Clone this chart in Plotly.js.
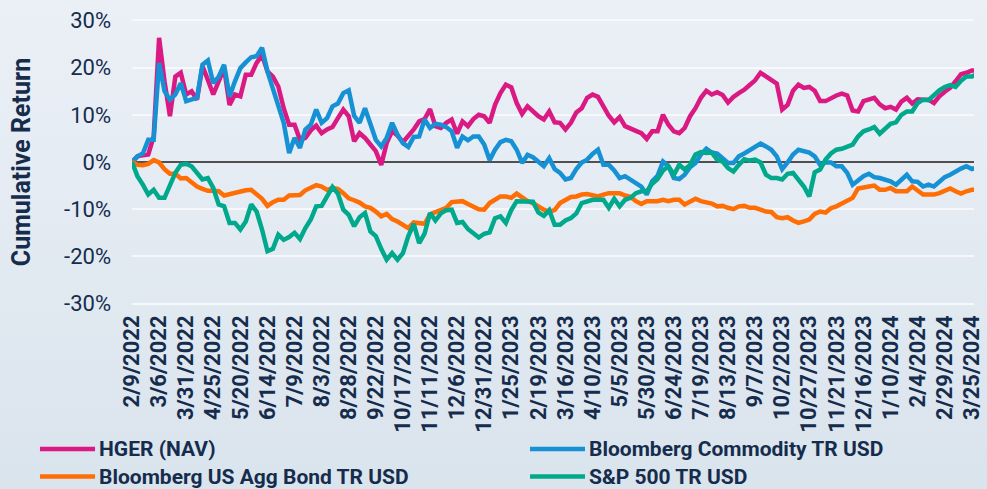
<!DOCTYPE html>
<html>
<head>
<meta charset="utf-8">
<script src="https://cdn.plot.ly/plotly-3.0.1.min.js"></script>
<style>
  html, body { margin: 0; padding: 0; }
  body { width: 987px; height: 489px; background: linear-gradient(to bottom, #ebf0f6 0%, #dae4ed 100%); overflow: hidden; }
  #chart { width: 987px; height: 489px; }
</style>
</head>
<body>
<div id="chart"></div>
<script>
// Cumulative return (%), sampled every 5 calendar days starting 2/9/2022
const startDate = '2022-02-09';
const stepDays = 5;

const seriesNames = ['HGER (NAV)', 'Bloomberg Commodity TR USD', 'Bloomberg US Agg Bond TR USD', 'S&P 500 TR USD'];
const seriesColors = ['#da1a82', '#1691d4', '#ff6e05', '#00a88c'];

const hger = [0,1.2,1.4,1.6,5.4,26.3,17.1,9.7,18.1,18.9, 14.3,15.0,13.2,20.3,17.4,14.3,17.1,19.9,12.1,14.3,
  13.9,18.5,18.5,21.0,22.7,19.2,18.1,16.0,11.4,7.9, 7.9,4.7,5.1,6.7,7.7,6.1,6.9,7.4,9.3,11.1,
  9.7,4.4,6.1,5.1,3.7,2.3,-0.6,4.0,6.5,5.6, 4.2,5.4,6.9,8.6,9.1,11.2,7.6,7.2,8.3,9.0,
  6.0,8.6,7.6,9.1,10.0,9.7,8.3,12.1,14.6,16.4, 15.8,12.5,10.2,11.8,10.7,9.7,9.0,10.7,8.4,8.3,
  6.9,8.3,10.5,11.4,13.6,14.3,13.8,11.8,9.8,8.4, 9.5,7.6,7.2,6.6,6.1,4.9,6.5,6.5,10.0,7.9,
  6.5,6.1,7.2,9.7,11.4,13.6,15.1,14.3,14.8,14.2, 12.6,13.8,14.6,15.3,16.3,17.3,18.9,18.1,17.4,16.6,
  11.1,12.1,15.1,16.4,15.7,15.9,15.1,12.9,12.9,13.6, 14.1,14.5,14.1,10.9,10.7,12.9,13.3,13.6,12.2,11.4,
  11.7,11.1,12.8,13.6,12.4,13.3,13.2,13.2,12.5,13.9, 14.9,15.7,17.1,18.6,18.9,19.4,19.4];

const commodity = [0,1.2,1.8,4.7,4.7,21.0,15.0,13.2,14.3,16.7, 12.9,13.3,13.6,20.6,21.5,16.7,18.1,20.6,13.9,17.1,
  19.9,21.1,22.2,22.4,24.2,19.2,15.7,11.8,8.3,1.9, 5.1,3.0,6.9,7.9,11.1,8.3,9.3,11.8,12.4,14.6,
  15.2,9.8,8.3,11.4,8.1,4.7,3.3,5.1,8.3,5.8, 4.0,3.2,5.3,5.4,9.0,7.2,8.1,7.9,7.4,6.5,
  3.0,5.4,4.6,5.4,5.4,3.7,0.4,2.6,4.2,4.7, 4.4,2.6,-0.2,1.5,1.0,-0.1,-0.9,0.8,-1.5,-2.3,
  -3.7,-3.4,-1.5,-0.1,0.5,1.7,2.6,-0.6,-0.6,-1.8, -3.4,-3.0,-3.7,-4.6,-5.2,-6.9,-4.1,-2.9,0.1,-0.9,
  -3.4,-3.6,-2.7,-1.1,-0.2,1.6,2.8,2.0,1.8,0.8, -0.2,-0.2,1.2,1.8,2.5,3.1,3.9,3.3,2.6,1.2,
  -1.5,-0.1,1.6,2.6,2.3,2.0,1.2,-0.6,-0.1,-0.1, -0.9,-0.9,-2.3,-4.8,-3.9,-3.0,-2.5,-3.2,-3.4,-3.7,
  -4.1,-4.8,-3.7,-2.7,-4.1,-4.2,-5.2,-4.8,-5.2,-4.2, -3.2,-2.7,-2.0,-1.4,-0.9,-1.5,-1.1];

const aggBond = [0,-0.6,-0.7,-0.4,0.4,-0.1,-1.5,-2.5,-2.5,-3.5, -3.4,-4.4,-5.2,-5.7,-6.1,-6.1,-6.2,-7.1,-6.8,-6.4,
  -6.2,-6.0,-5.9,-6.9,-7.8,-9.3,-8.5,-8.0,-8.0,-7.1, -7.0,-7.0,-6.0,-5.5,-4.9,-5.2,-5.9,-5.5,-5.7,-6.6,
  -7.7,-8.1,-8.6,-9.4,-9.7,-10.5,-11.5,-11.0,-12.1,-12.6, -13.3,-14.0,-12.8,-12.9,-13.1,-11.1,-10.7,-10.2,-9.7,-8.5,
  -8.5,-8.3,-8.9,-9.4,-10.0,-10.1,-8.7,-8.0,-7.3,-7.3, -7.6,-6.7,-7.6,-8.3,-8.7,-9.4,-10.1,-10.5,-10.2,-8.7,
  -8.0,-7.4,-7.3,-6.9,-6.8,-7.1,-7.3,-6.9,-6.6,-6.6, -6.6,-7.1,-7.4,-8.3,-8.9,-8.3,-8.3,-8.3,-8.0,-8.3,
  -8.0,-8.0,-9.0,-8.3,-7.8,-8.3,-8.5,-8.8,-9.4,-9.3, -9.7,-10.0,-9.4,-9.3,-9.7,-9.7,-10.1,-10.5,-10.6,-11.7,
  -11.9,-11.7,-12.4,-12.9,-12.6,-12.2,-11.0,-10.5,-10.7,-9.8, -9.4,-8.8,-8.0,-7.6,-5.6,-5.5,-5.2,-5.0,-5.9,-5.9,
  -5.5,-6.2,-6.2,-6.2,-5.2,-6.0,-6.9,-6.9,-6.9,-6.6, -6.1,-5.6,-6.2,-6.7,-6.2,-5.9,-5.9];

const sp500 = [0,-3.0,-4.8,-6.9,-5.9,-7.6,-7.6,-5.2,-2.3,-0.6, -0.4,-0.9,-2.3,-3.7,-3.4,-5.5,-9.0,-9.4,-12.9,-12.9,
  -14.3,-12.6,-9.0,-10.5,-14.3,-18.9,-18.4,-15.4,-16.5,-15.9, -15.0,-16.3,-14.0,-12.2,-9.4,-9.3,-7.3,-5.3,-6.7,-10.1,
  -11.2,-13.6,-11.7,-10.8,-14.7,-15.7,-18.4,-20.7,-19.3,-20.7, -19.3,-15.7,-13.1,-17.2,-15.2,-10.8,-12.4,-10.9,-10.2,-10.1,
  -12.9,-12.7,-14.2,-15.0,-16.0,-15.2,-14.9,-11.9,-11.5,-12.9, -10.2,-8.3,-8.3,-8.5,-8.4,-10.7,-11.4,-10.2,-13.3,-13.3,
  -12.4,-11.9,-10.9,-8.7,-8.4,-8.0,-8.0,-8.0,-9.7,-7.8, -9.4,-8.0,-7.6,-6.6,-6.2,-6.2,-4.6,-3.6,-1.8,-0.9,
  -2.7,-0.6,-1.6,-0.6,1.6,2.1,1.9,2.0,0.5,0.1, -1.3,-2.0,-0.6,0.6,0.3,0.5,-0.1,-2.7,-3.4,-3.4,
  -3.7,-2.5,-2.3,-3.9,-5.2,-7.3,-2.2,-1.6,0.5,1.8, 2.6,2.8,3.3,3.7,5.4,6.5,6.9,7.4,6.0,7.0,
  8.1,8.4,10.0,10.7,10.7,12.5,13.2,13.1,14.3,15.2, 15.9,16.3,15.9,17.2,18.1,18.1,18.7];

const yTickVals = [-30, -20, -10, 0, 10, 20, 30];
const yTickText = ['-30%', '-20%', '-10%', '0%', '10%', '20%', '30%'];
const yTitle = 'Cumulative Return';

const allSeries = [hger, commodity, aggBond, sp500];
const DAY = 86400000;

const traces = allSeries.map((vals, i) => ({
  type: 'scatter',
  mode: 'lines',
  name: seriesNames[i],
  x0: startDate,
  dx: stepDays * DAY,
  y: vals,
  line: { color: seriesColors[i], width: 4.5, shape: 'linear' },
  hoverinfo: 'skip'
}));

const navy = '#162c4d';
const shapes = [];
const annotations = [];
// custom legend: 2 columns x 2 rows
const legendPos = [
  { x: -0.1093, x2: -0.0439, tx: -0.0404, y: -0.5035 },
  { x: 0.4727, x2: 0.5380, tx: 0.5416, y: -0.5035 },
  { x: -0.1093, x2: -0.0439, tx: -0.0404, y: -0.5997 },
  { x: 0.4727, x2: 0.5380, tx: 0.5416, y: -0.5997 }
];
seriesNames.forEach((nm, i) => {
  const p = legendPos[i];
  shapes.push({ type: 'line', xref: 'paper', yref: 'paper', x0: p.x, x1: p.x2, y0: p.y, y1: p.y,
    line: { color: seriesColors[i], width: 4.5 } });
  annotations.push({ xref: 'paper', yref: 'paper', x: p.tx, y: p.y, xanchor: 'left', yanchor: 'middle',
    borderpad: 0,
    text: nm, showarrow: false, font: { family: 'Roboto, sans-serif', size: 21, color: navy, weight: 'bold' } });
});

const layout = {
  width: 987, height: 489,
  margin: { l: 132, r: 13, t: 19, b: 184 },
  paper_bgcolor: 'rgba(0,0,0,0)',
  plot_bgcolor: 'rgba(0,0,0,0)',
  showlegend: false,
  xaxis: {
    type: 'date',
    range: ['2022-02-09', '2024-03-27'],
    tick0: startDate,
    dtick: 25 * DAY,
    tickformat: '%-m/%-d/%Y',
    tickangle: -90,
    tickfont: { family: 'Roboto, sans-serif', size: 22, color: navy, weight: 'bold' },
    showgrid: false, zeroline: false, showline: false, ticks: '',
    ticklabelstandoff: 5,
    fixedrange: true
  },
  yaxis: {
    range: [-30.3, 30.3],
    tickmode: 'array',
    tickvals: yTickVals,
    ticktext: yTickText,
    tickfont: { family: 'Roboto, sans-serif', size: 22, color: navy },
    showgrid: true, gridcolor: '#f6f8fb', gridwidth: 2,
    zeroline: true, zerolinecolor: '#505050', zerolinewidth: 2,
    showline: false, ticks: '',
    ticklabelstandoff: 20,
    title: { text: yTitle, font: { family: 'Roboto, sans-serif', size: 25, color: navy, weight: 'bold' }, standoff: 26 },
    fixedrange: true
  },
  shapes: shapes,
  annotations: annotations
};

Plotly.newPlot('chart', traces, layout, { staticPlot: true, displayModeBar: false });
</script>
</body>
</html>
